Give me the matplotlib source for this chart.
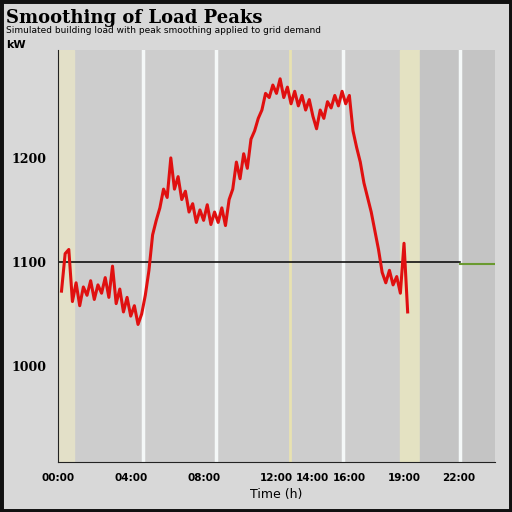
import numpy as np
import matplotlib
matplotlib.use("Agg")
import matplotlib.pyplot as plt
from matplotlib.patches import Rectangle

# load series (kW), every 0.2 h from 0.2 h to 19.2 h
hours = np.linspace(0.2, 19.2, 96)
load = [1072, 1108, 1112, 1062, 1080, 1058, 1076, 1068, 1082, 1064,
        1078, 1070, 1085, 1066, 1096, 1060, 1074, 1052, 1066, 1048,
        1058, 1040, 1050, 1068, 1092, 1126, 1140, 1152, 1170, 1162,
        1200, 1170, 1182, 1160, 1168, 1148, 1156, 1138, 1150, 1140,
        1155, 1136, 1148, 1138, 1152, 1135, 1160, 1170, 1196, 1180,
        1204, 1190, 1218, 1226, 1238, 1246, 1262, 1258, 1270, 1262,
        1276, 1258, 1268, 1252, 1264, 1250, 1260, 1246, 1256, 1240,
        1228, 1246, 1238, 1254, 1248, 1260, 1250, 1264, 1252, 1260,
        1226, 1210, 1196, 1176, 1162, 1148, 1130, 1112, 1090, 1080,
        1092, 1078, 1086, 1070, 1118, 1052]

threshold = 1100
y_ticks = [1000, 1100, 1200]
x_ticks = [0, 4, 8, 12, 14, 16, 19, 22]
x_labels = ["00:00", "04:00", "08:00", "12:00", "14:00", "16:00", "19:00", "22:00"]

fig = plt.figure(figsize=(5.12, 5.12), dpi=100, facecolor="#d8d8d8")
ax = fig.add_axes([0.113, 0.098, 0.854, 0.805])
ax.set_facecolor("#cdcdcd")

# background bands
ax.axvspan(0, 0.9, color="#e3e0c8", zorder=0)
ax.axvspan(18.8, 19.9, color="#e4e2c2", zorder=0)
ax.axvspan(19.9, 24, color="#c4c4c4", zorder=0)
for xv in [4.67, 8.68, 15.66, 22.1]:
    ax.axvline(xv, color="#f4f8f8", lw=2.5, zorder=1)
ax.axvline(12.75, color="#e8e2b0", lw=2, zorder=1)

# threshold line
ax.plot([0, 22.1], [threshold, threshold], color="black", lw=1.1, zorder=2)
ax.plot([22.1, 24], [threshold - 2, threshold - 2], color="#6a9a30", lw=1.5, zorder=2)

ax.plot(hours, load, color="#e01010", lw=2.2, zorder=3)

ax.set_xlim(0, 24)
ax.set_ylim(908, 1304)
ax.set_yticks(y_ticks)
ax.set_yticklabels([str(v) for v in y_ticks], fontsize=9, fontweight="bold", family="DejaVu Serif")
ax.set_xticks(x_ticks)
ax.set_xticklabels(x_labels, fontsize=7.5, fontweight="bold")
ax.tick_params(length=0, pad=8)
ax.set_xlabel("Time (h)", fontsize=9)
for s in ["top", "right"]:
    ax.spines[s].set_visible(False)
ax.spines["left"].set_color("#222222")
ax.spines["bottom"].set_color("#222222")

fig.text(0.012, 0.965, "Smoothing of Load Peaks", fontsize=13, fontweight="bold",
         family="DejaVu Serif", va="center")
fig.text(0.012, 0.94, "Simulated building load with peak smoothing applied to grid demand",
         fontsize=6.5, va="center")
fig.text(0.012, 0.912, "kW", fontsize=8, fontweight="bold", va="center")

fig.patches.append(Rectangle((0, 0), 1, 1, transform=fig.transFigure, fill=False,
                             edgecolor="#111111", lw=5))

fig.savefig("out.png", dpi=100, facecolor=fig.get_facecolor())
